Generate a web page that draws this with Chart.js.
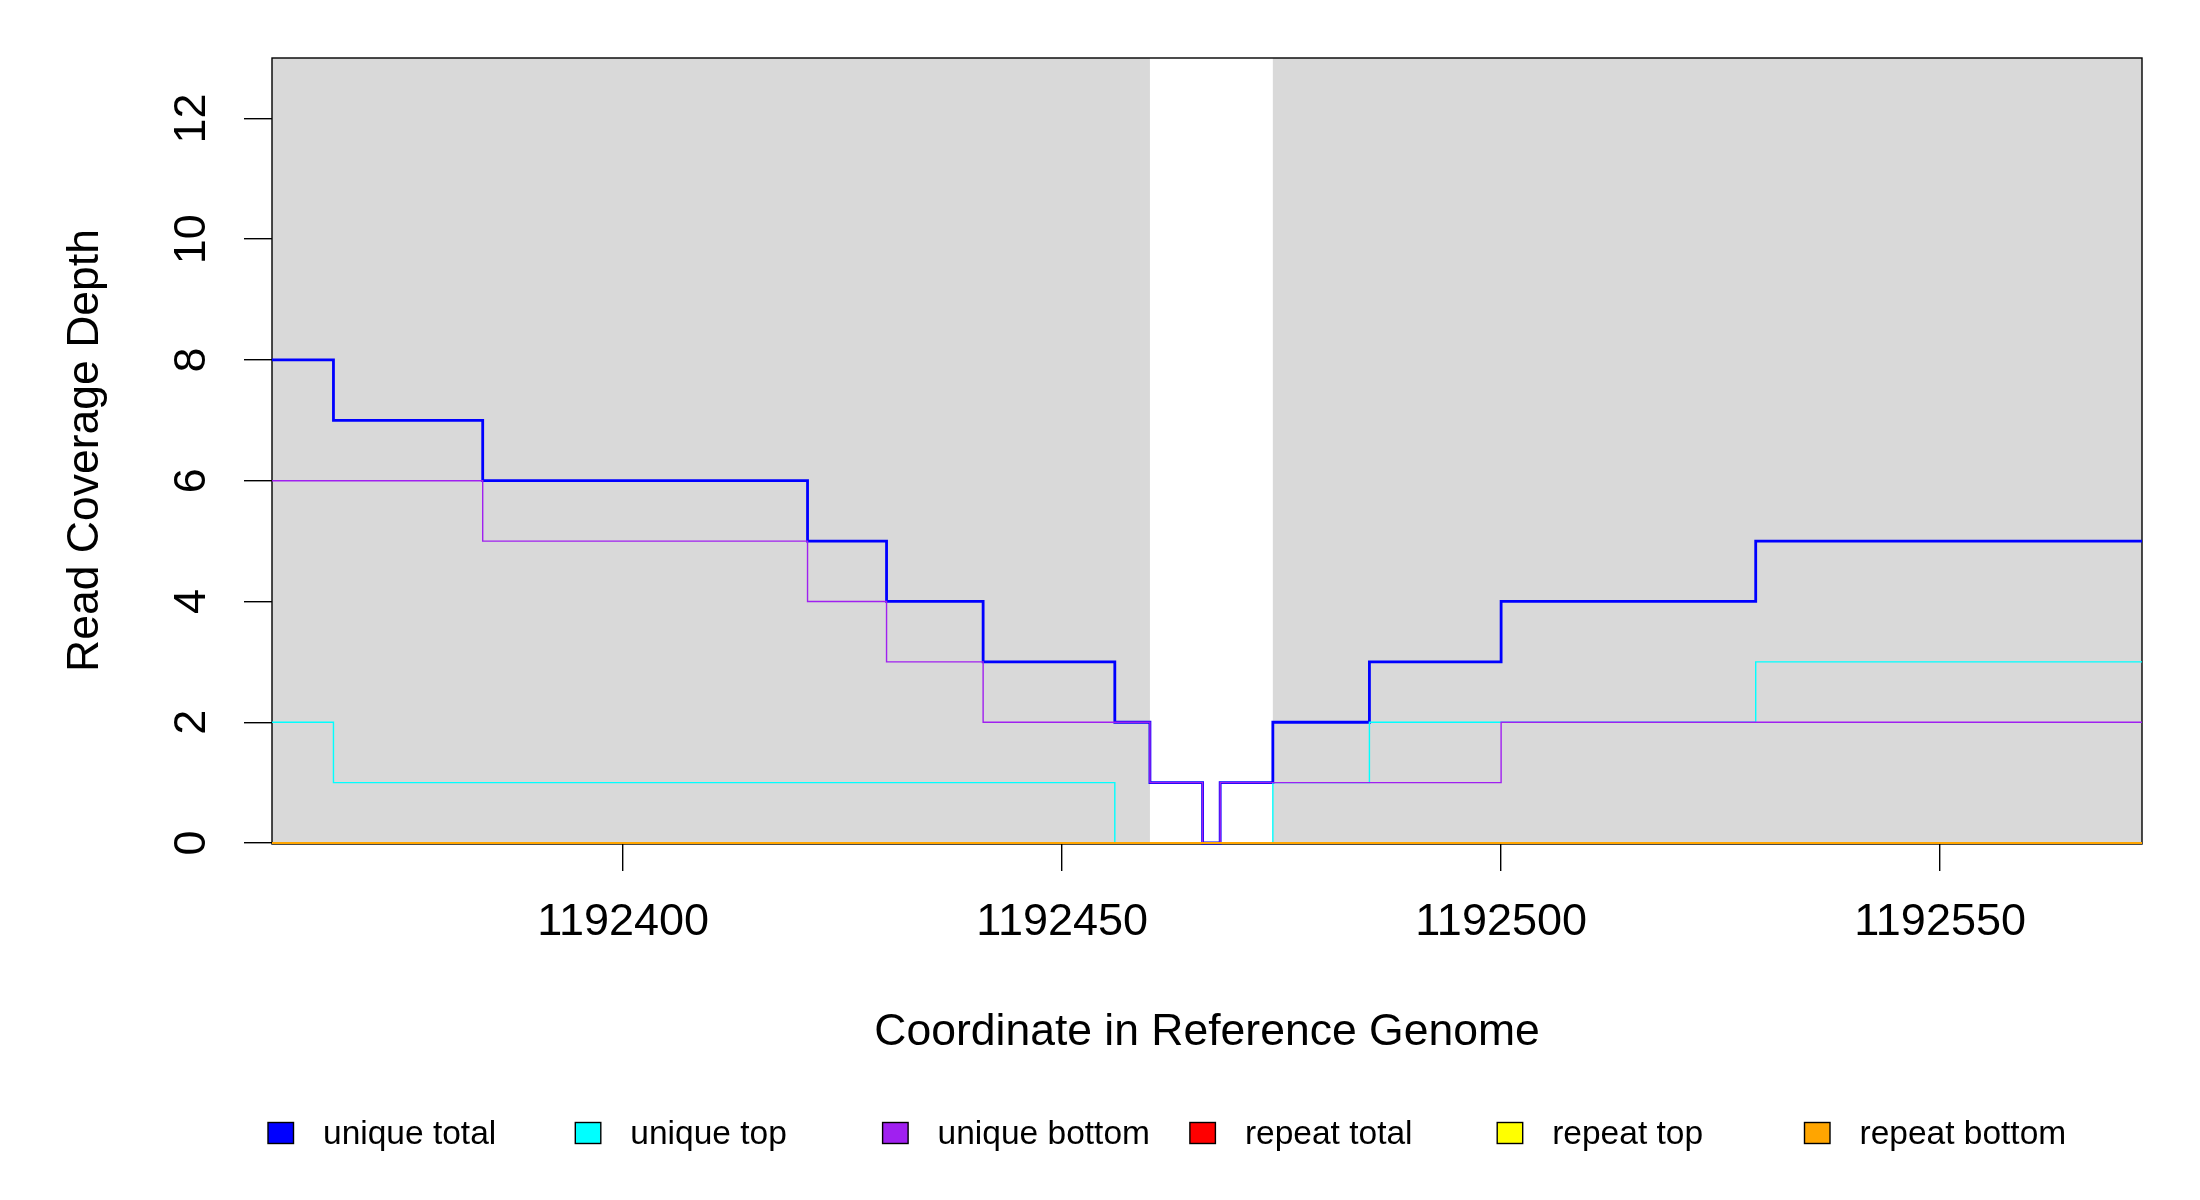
<!DOCTYPE html>
<html>
<head>
<meta charset="utf-8">
<title>Read Coverage Depth</title>
<script src="https://cdn.jsdelivr.net/npm/chart.js@4.4.1/dist/chart.umd.min.js"></script>
<style>
  html, body { margin: 0; padding: 0; background: #ffffff; }
  #chart { display: block; }
</style>
</head>
<body>
<canvas id="chart" width="2200" height="1200"></canvas>
<script>
/* ── DATA ── */

const xMin = 1192360;
const xMax = 1192573;
const xTicks = [1192400, 1192450, 1192500, 1192550];
const yTicks = [0, 2, 4, 6, 8, 10, 12];

// step positions (start of each step) and coverage depth
const uniqueTotalX  = [1192360, 1192367, 1192384, 1192421, 1192430, 1192441, 1192456, 1192460, 1192466, 1192468, 1192474, 1192485, 1192500, 1192529, 1192573];
const uniqueTotalY  = [8, 7, 6, 5, 4, 3, 2, 1, 0, 1, 2, 3, 4, 5, 5];
const uniqueTopX    = [1192360, 1192367, 1192456, 1192474, 1192485, 1192529, 1192573];
const uniqueTopY    = [2, 1, 0, 1, 2, 3, 3];
const uniqueBottomX = [1192360, 1192384, 1192421, 1192430, 1192441, 1192460, 1192466, 1192468, 1192500, 1192573];
const uniqueBottomY = [6, 5, 4, 3, 2, 1, 0, 1, 2, 2];
const repeatX       = [1192360, 1192573];
const repeatTotalY  = [0, 0];
const repeatTopY    = [0, 0];
const repeatBottomY = [0, 0];

// covered (shaded) regions of the reference
const coveredStart = [1192360, 1192474];
const coveredEnd   = [1192460, 1192573];

const seriesNames = ['unique total', 'unique top', 'unique bottom', 'repeat total', 'repeat top', 'repeat bottom'];

/* ── STYLE ── */

const seriesColors = ['#0000ff', '#00ffff', '#a020f0', '#ff0000', '#ffff00', '#ffa500'];
const seriesWidths = [2.8, 1.4, 1.4, 2, 2, 2];
const FONT = '"Liberation Sans", Arial, sans-serif';

const pts = (xs, ys) => xs.map((x, i) => ({ x: x, y: ys[i] }));

const seriesData = [
  pts(uniqueTotalX, uniqueTotalY),
  pts(uniqueTopX, uniqueTopY),
  pts(uniqueBottomX, uniqueBottomY),
  pts(repeatX, repeatTotalY),
  pts(repeatX, repeatTopY),
  pts(repeatX, repeatBottomY)
];

/* ── PLUGINS ── */

const shadePlugin = {
  id: 'shade',
  beforeDatasetsDraw(chart) {
    const { ctx, chartArea: a, scales: { x } } = chart;
    ctx.save();
    ctx.fillStyle = '#d9d9d9';
    coveredStart.forEach((s, i) => {
      const x0 = x.getPixelForValue(s);
      const x1 = x.getPixelForValue(coveredEnd[i]);
      ctx.fillRect(x0, a.top, x1 - x0, a.bottom - a.top);
    });
    ctx.strokeStyle = '#000000';
    ctx.lineWidth = 1.4;
    ctx.strokeRect(a.left, a.top, a.right - a.left, a.bottom - a.top + 1);
    ctx.restore();
  }
};

const legendPlugin = {
  id: 'rowLegend',
  afterDraw(chart) {
    const ctx = chart.ctx;
    ctx.save();
    ctx.font = '33.5px ' + FONT;
    ctx.textBaseline = 'alphabetic';
    ctx.textAlign = 'left';
    chart.data.datasets.forEach((ds, i) => {
      const bx = 268 + 307.3 * i;
      ctx.fillStyle = ds.borderColor;
      ctx.fillRect(bx, 1122.5, 25.5, 21);
      ctx.strokeStyle = '#000000';
      ctx.lineWidth = 1.4;
      ctx.strokeRect(bx, 1122.5, 25.5, 21);
      ctx.fillStyle = '#000000';
      ctx.fillText(ds.label, bx + 55, 1144);
    });
    ctx.restore();
  }
};

/* ── CHART ── */

new Chart(document.getElementById('chart'), {
  type: 'line',
  data: {
    datasets: seriesData.map((d, i) => ({
      label: seriesNames[i],
      data: d,
      borderColor: seriesColors[i],
      backgroundColor: seriesColors[i],
      borderWidth: seriesWidths[i],
      stepped: true,
      pointRadius: 0,
      fill: false,
      borderJoinStyle: 'miter',
      borderCapStyle: 'butt',
      clip: false,
      order: seriesNames.length - i
    }))
  },
  options: {
    responsive: false,
    devicePixelRatio: 1,
    animation: false,
    layout: { padding: { top: 58, right: 58, left: 0, bottom: 0 } },
    plugins: {
      legend: { display: false },
      tooltip: { enabled: false }
    },
    scales: {
      x: {
        type: 'linear',
        min: xMin,
        max: xMax,
        afterBuildTicks: s => { s.ticks = xTicks.map(v => ({ value: v })); },
        afterFit: s => { s.height = 357; },
        ticks: {
          color: '#000000',
          font: { family: FONT, size: 45 },
          padding: 25,
          maxRotation: 0,
          autoSkip: false,
          callback: v => String(v)
        },
        grid: { drawOnChartArea: false, drawTicks: true, tickLength: 28, color: '#000000', lineWidth: 1.4 },
        border: { display: false },
        title: {
          display: true,
          text: 'Coordinate in Reference Genome',
          color: '#000000',
          font: { family: FONT, size: 44.5 },
          padding: { top: 0, bottom: 140.5 }
        }
      },
      y: {
        type: 'linear',
        min: 0,
        max: 13,
        afterBuildTicks: s => { s.ticks = yTicks.map(v => ({ value: v })); },
        afterFit: s => { s.width = 272; },
        ticks: {
          color: '#000000',
          font: { family: FONT, size: 45 },
          padding: 26.5,
          minRotation: 90,
          maxRotation: 90,
          crossAlign: 'center',
          autoSkip: false,
          callback: v => String(v)
        },
        grid: { drawOnChartArea: false, drawTicks: true, tickLength: 28, color: '#000000', lineWidth: 1.4 },
        border: { display: false },
        title: {
          display: true,
          text: 'Read Coverage Depth',
          color: '#000000',
          font: { family: FONT, size: 44.5 },
          padding: { top: 59, bottom: 0 }
        }
      }
    }
  },
  plugins: [shadePlugin, legendPlugin]
});
</script>
</body>
</html>
